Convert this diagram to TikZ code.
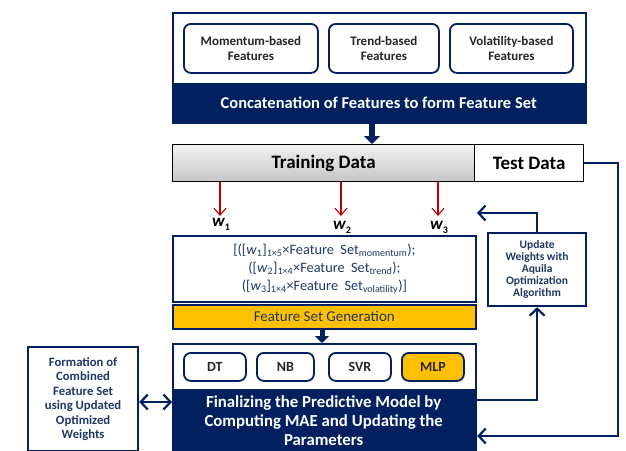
\documentclass[tikz,border=0pt]{standalone}
\usepackage{fontspec}
\setmainfont{Carlito}
\usetikzlibrary{arrows.meta}
\definecolor{navy}{HTML}{002060}
\definecolor{gold}{HTML}{FFC000}
\definecolor{txtblue}{HTML}{1F3864}
\definecolor{wred}{HTML}{C00000}
\newcommand{\fs}[2]{\fontsize{#1}{#2}\selectfont}
\tikzset{
  outerbox/.style={draw=navy,line width=2.2pt,anchor=north west,inner sep=0pt,fill=white},
  band/.style={fill=navy,anchor=north west,inner sep=0pt,text=white,align=center},
  rbox/.style={draw=navy,line width=1.8pt,rounded corners=7pt,fill=white,anchor=north west,inner sep=0pt,align=center,text=black!85},
  sqbox/.style={draw=navy,line width=2.2pt,anchor=north west,inner sep=0pt,fill=white,align=center,text=txtblue},
  databox/.style={draw=black,line width=1.2pt,anchor=north west,inner sep=0pt,font=\bfseries\fs{19}{21}},
  conn/.style={draw=navy,line width=2.2pt},
  barb/.style={-{Straight Barb[length=7pt,width=15pt,line width=2.2pt]}},
  redarrow/.style={draw=wred,line width=1.1pt,-{Straight Barb[length=7pt,width=12pt,line width=1.1pt]}},
  bigarrow/.style={draw=navy,line width=6pt,-{Triangle[length=8pt,width=16pt]}},
  wlab/.style={inner sep=0pt,font=\bfseries\fs{17}{19}},
}
\begin{document}
\begin{tikzpicture}[x=1pt,y=-1pt]
\useasboundingbox (0,0) rectangle (626,450);
% top container
\node[outerbox,minimum width=413,minimum height=110] (top) at (172,12) {};
\node[band,minimum width=413,minimum height=39,font=\bfseries\fs{16.5}{18}] (concat) at (172,83) {Concatenation of Features to form Feature Set};
\node[rbox,minimum width=134,minimum height=49,font=\bfseries\fs{13}{15}] (mom) at (183,23) {Momentum-based\\Features};
\node[rbox,minimum width=110,minimum height=49,font=\bfseries\fs{13}{15}] (trend) at (328,23) {Trend-based\\Features};
\node[rbox,minimum width=123,minimum height=49,font=\bfseries\fs{13}{15}] (vol) at (449,23) {Volatility-based\\Features};
% data bars
\node[databox,minimum width=302,minimum height=37,top color=gray!10,bottom color=gray!45] (train) at (172,144) {Training Data};
\node[databox,minimum width=109,minimum height=37,fill=white] (test) at (474,144) {Test Data};
\coordinate (ax) at (372,0);
\draw[bigarrow] (concat.south -| ax) -- (train.north -| ax);
% weights
\node[wlab] (w1) at (221,224) {\itshape w\raisebox{-4pt}{\upshape\fs{10}{12}1}};
\node[wlab] (w2) at (342,227) {\itshape w\raisebox{-4pt}{\upshape\fs{10}{12}2}};
\node[wlab] (w3) at (439,227) {\itshape w\raisebox{-4pt}{\upshape\fs{10}{12}3}};
\coordinate (r1) at (220,0);
\coordinate (r2) at (341,0);
\coordinate (r3) at (438,0);
\draw[redarrow] (train.south -| r1) -- (220,216);
\draw[redarrow] (train.south -| r2) -- (341,216);
\draw[redarrow] (train.south -| r3) -- (438,216);
% formula
\node[sqbox,line width=1.8pt,minimum width=303,minimum height=66,font=\fs{14.3}{18}] (form) at (172,235)
 {[([\textit{w}\textsubscript{1}]\textsubscript{1×5}×Feature\ \ Set\textsubscript{momentum});\\
  ([\textit{w}\textsubscript{2}]\textsubscript{1×4}×Feature\ \ Set\textsubscript{trend});\\
  ([\textit{w}\textsubscript{3}]\textsubscript{1×4}×Feature\ \ Set\textsubscript{volatility})]};
\node[sqbox,line width=1.6pt,fill=gold,minimum width=303,minimum height=24,font=\fs{15}{17}] (gen) at (172,304) {Feature Set Generation};
% final
\node[outerbox,minimum width=303,minimum height=115] (final) at (172,343) {};
\node[band,minimum width=303,minimum height=62,font=\bfseries\fs{16.8}{19}] (finband) at (172,389) {Finalizing the Predictive Model by\\Computing MAE and Updating the\\Parameters};
\coordinate (ay) at (322,0);
\draw[draw=navy,line width=5pt,-{Triangle[length=7pt,width=14pt]}] (gen.south -| ay) -- (final.north -| ay);
\node[rbox,minimum width=62,minimum height=28,font=\bfseries\fs{14}{16}] (dt) at (183,352) {DT};
\node[rbox,minimum width=57,minimum height=28,font=\bfseries\fs{14}{16}] (nb) at (256,352) {NB};
\node[rbox,minimum width=62,minimum height=28,font=\bfseries\fs{14}{16}] (svr) at (328,352) {SVR};
\node[rbox,minimum width=62,minimum height=28,font=\bfseries\fs{14}{16},fill=gold] (mlp) at (401,352) {MLP};
% side boxes
\node[sqbox,minimum width=110,minimum height=104,font=\bfseries\fs{12.7}{14.5}] (left) at (27,346)
 {Formation of\\Combined\\Feature Set\\using Updated\\Optimized\\Weights};
\node[sqbox,minimum width=98,minimum height=73,font=\bfseries\fs{11.5}{12}] (upd) at (487,232)
 {Update\\Weights with\\Aquila\\Optimization\\Algorithm};
% connectors
\coordinate (c1) at (618,436);
\coordinate (c2) at (536,400);
\coordinate (c3) at (477,213);
\coordinate (c4) at (0,402);
\draw[conn,barb] (test.east) -| (c1) -- (c1 -| final.east);
\draw[conn,barb] (c2 -| final.east) -| (upd.south);
\draw[conn,barb] (upd.north) |- (c3);
\draw[conn,{Straight Barb[length=7pt,width=15pt,line width=2.2pt]}-{Straight Barb[length=7pt,width=15pt,line width=2.2pt]}] (c4 -| left.east) -- (c4 -| final.west);
\end{tikzpicture}
\end{document}
